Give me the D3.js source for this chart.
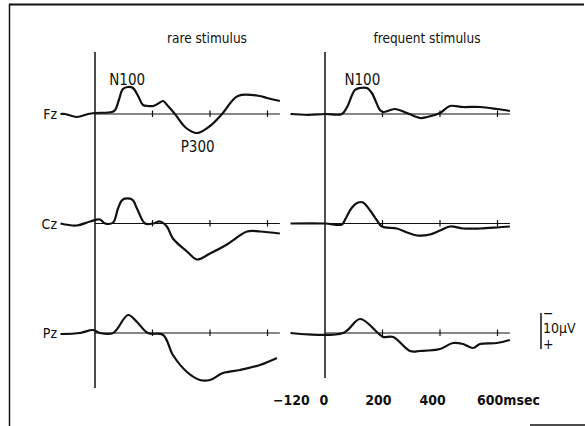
<!DOCTYPE html>
<html>
<head>
<meta charset="utf-8">
<script src="https://cdn.jsdelivr.net/npm/d3@7"></script>
<style>
  html, body { margin: 0; padding: 0; background: #fff; }
  svg text { font-family: "DejaVu Sans Condensed", "Liberation Sans", Arial, sans-serif; font-stretch: condensed; fill: #111; }
</style>
</head>
<body>
<svg id="chart" width="585" height="426"></svg>
<script>
// channels and conditions
const channels = ['Fz', 'Cz', 'Pz'];
const conditions = ['rare stimulus', 'frequent stimulus'];
const tickTimes = [200, 400, 600];
const timeLabels = ['\u2212120', '0', '200', '400', '600msec'];
const labelTimes = [-120, 0, 200, 400, 600];

// [msec, microvolt], negative is drawn upward
const rareFz = [[-120,0],[-104,0],[-63,0.75],[-24,0],[0,-0.25],[59,-0.5],[70,-1],[83,-3.5],[97,-6.25],[115,-6.75],[132,-6.5],[150,-4.5],[167,-2.25],[185,-2],[202,-2],[220,-2.6],[237,-3.25],[254,-2],[278,0],[317,3.5],[355,4.75],[400,3],[442,0],[497,-4.5],[574,-4.5],[598,-4],[643,-3.25]];
const rareCz = [[-120,0],[-63,0.5],[-17,-0.5],[17,-1],[35,0],[63,-0.25],[80,-3.75],[97,-6],[129,-6],[146,-3.75],[174,0],[202,0],[226,-0.5],[250,0.75],[271,3.75],[320,7],[355,9],[400,7.5],[459,5.25],[529,2],[574,2],[643,2.5]];
const rarePz = [[-120,0.25],[-52,0],[-7,-0.75],[17,0],[63,0],[115,-4.5],[146,-2.75],[184,0],[237,0.5],[271,5.5],[320,9.75],[365,11.75],[400,11.75],[445,10],[504,9.25],[574,8],[633,6.25]];
const freqFz = [[-120,0],[-60,0.2],[0,0],[59,0],[77,-1.75],[104,-6],[122,-6.5],[146,-6.5],[163,-5.25],[191,-1],[202,-0.5],[243,-1.25],[285,-0.25],[330,1],[355,0.75],[400,-0.25],[435,-2],[480,-1.75],[539,-1.75],[598,-1.25],[643,-0.75]];
const freqCz = [[-120,0],[0,0],[59,0.25],[70,-1],[94,-4],[115,-5.25],[132,-5.25],[157,-3.25],[181,-0.75],[198,0.75],[250,1.25],[285,2.25],[320,3],[365,2.75],[400,1.75],[435,0.75],[480,1.25],[539,1.25],[598,1],[643,0.75]];
const freqPz = [[-120,0],[63,0],[122,-3.5],[184,0],[202,1],[237,1],[296,4.5],[330,4.5],[400,4],[445,2.5],[480,2.75],[515,3.75],[539,2.75],[598,2.5],[643,1.75]];

const peakLabels = [
  { panel: 0, ch: 'Fz', text: 'N100', t: 112, v: -8.5 },
  { panel: 0, ch: 'Fz', text: 'P300', t: 357, v: 8.2 },
  { panel: 1, ch: 'Fz', text: 'N100', t: 130, v: -8.5 }
];

const traces = [
  [rareFz, rareCz, rarePz],
  [freqFz, freqCz, freqPz]
];

const svg = d3.select('#chart');

// frame pieces
svg.append('line').attr('x1', 9).attr('x2', 584).attr('y1', 4.5).attr('y2', 4.5)
  .attr('stroke', '#111').attr('stroke-width', 2);
svg.append('line').attr('x1', 9.5).attr('x2', 9.5).attr('y1', 4).attr('y2', 426)
  .attr('stroke', '#111').attr('stroke-width', 1.5);
svg.append('line').attr('x1', 530).attr('x2', 585).attr('y1', 425).attr('y2', 425)
  .attr('stroke', '#111').attr('stroke-width', 1.5);

const xScales = [
  d3.scaleLinear().domain([0, 600]).range([95, 267.5]),
  d3.scaleLinear().domain([0, 600]).range([325, 497.5])
];
const yBase = d3.scalePoint().domain(channels).range([114, 333]);
const uv = d3.scaleLinear().domain([0, 10]).range([0, 40]);

const axisEnds = [388, 378];

conditions.forEach((cond, p) => {
  const x = xScales[p];
  const g = svg.append('g');

  g.append('text')
    .attr('x', p === 0 ? 207 : 427)
    .attr('y', 43)
    .attr('text-anchor', 'middle')
    .attr('font-size', 13.5)
    .text(cond);

  // vertical zero line
  g.append('line')
    .attr('x1', x(0)).attr('x2', x(0))
    .attr('y1', 52).attr('y2', axisEnds[p])
    .attr('stroke', '#111').attr('stroke-width', 1.5);

  channels.forEach((ch, i) => {
    const y0 = yBase(ch);
    const line = d3.line()
      .x(d => x(d[0]))
      .y(d => y0 + uv(d[1]))
      .curve(d3.curveCatmullRom.alpha(0.5));

    // baseline
    g.append('line')
      .attr('x1', x(0)).attr('x2', x(643))
      .attr('y1', y0).attr('y2', y0)
      .attr('stroke', '#111').attr('stroke-width', 1.1);

    g.selectAll(null)
      .data(tickTimes)
      .enter().append('line')
      .attr('x1', d => x(d)).attr('x2', d => x(d))
      .attr('y1', y0 - 3.5).attr('y2', y0 + 3)
      .attr('stroke', '#111').attr('stroke-width', 1.2);

    g.append('path')
      .datum(traces[p][i])
      .attr('d', line)
      .attr('fill', 'none')
      .attr('stroke', '#111')
      .attr('stroke-width', 2.2)
      .attr('stroke-linejoin', 'round');

    if (p === 0) {
      g.append('text')
        .attr('x', 57)
        .attr('y', y0 + 5)
        .attr('text-anchor', 'end')
        .attr('font-size', 14)
        .text(ch);
    }
  });
});

peakLabels.forEach(d => {
  svg.append('text')
    .attr('x', xScales[d.panel](d.t))
    .attr('y', yBase(d.ch) + uv(d.v) + 5)
    .attr('text-anchor', 'middle')
    .attr('font-size', 15)
    .text(d.text);
});

// time labels under the right panel
const labelX = d3.scaleLinear().domain([0, 600]).range([324, 487]);
svg.selectAll('.tl')
  .data(labelTimes)
  .enter().append('text')
  .attr('class', 'tl')
  .attr('x', (d, i) => i === labelTimes.length - 1 ? labelX(d) - 10 : labelX(d))
  .attr('y', 405)
  .attr('text-anchor', (d, i) => i === labelTimes.length - 1 ? 'start' : 'middle')
  .attr('font-size', 14)
  .attr('font-weight', 'bold')
  .text((d, i) => timeLabels[i]);

// 10 microvolt scale bar
const barY = yBase('Pz') - 20;
svg.append('line')
  .attr('x1', 541).attr('x2', 541)
  .attr('y1', barY).attr('y2', barY + uv(9))
  .attr('stroke', '#111').attr('stroke-width', 1.5);
svg.append('text').attr('x', 543).attr('y', barY + 5).attr('font-size', 14).text('\u2212');
svg.append('text').attr('x', 543).attr('y', barY + 20).attr('font-size', 14).text('10\u03bcV');
svg.append('text').attr('x', 543).attr('y', barY + 36).attr('font-size', 14).text('+');
</script>
</body>
</html>
